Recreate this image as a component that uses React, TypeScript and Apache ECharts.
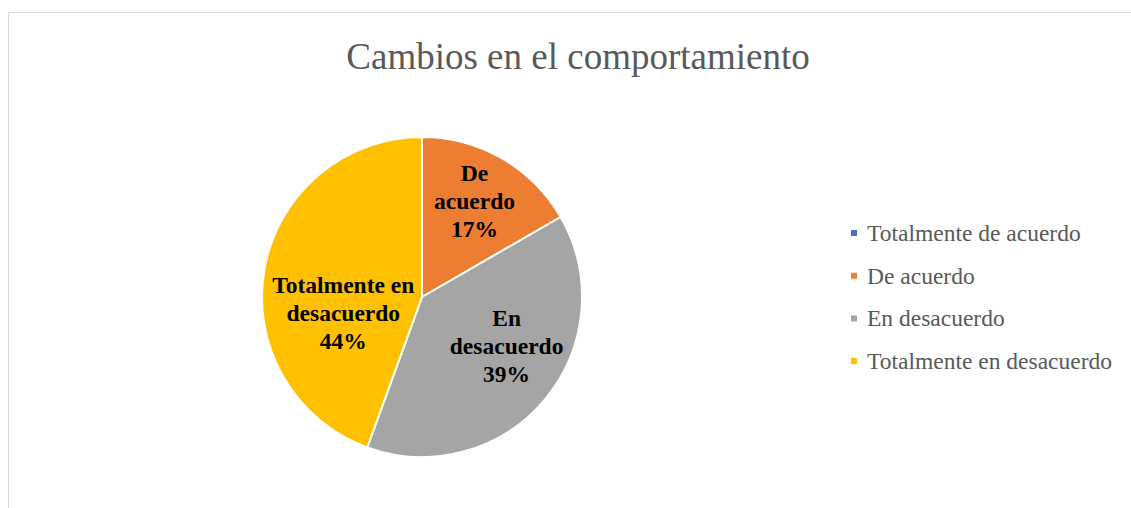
import React, { useEffect, useRef } from "react";
import * as echarts from "echarts";

const categories = [
  "Totalmente de acuerdo",
  "De acuerdo",
  "En desacuerdo",
  "Totalmente en desacuerdo",
];
const labelNames = ["Totalmente de\nacuerdo", "De\nacuerdo", "En\ndesacuerdo", "Totalmente en\ndesacuerdo"];
const values = [0, 3, 7, 8];
const colors = ["#4472C4", "#ED7D31", "#A5A5A5", "#FFC000"];
const labelOffsets = [
  [0, 0],
  [11, -24],
  [21, -4],
  [3, 30],
];

const FONT = "Liberation Serif";

export default function App() {
  const ref = useRef<HTMLDivElement>(null);
  useEffect(() => {
    if (!ref.current) return;
    const chart = echarts.init(ref.current, undefined, { renderer: "svg" });
    chart.setOption({
      animation: false,
      backgroundColor: "#ffffff",
      title: {
        text: "Cambios en el comportamiento",
        left: 573,
        textAlign: "center",
        top: 33,
        textStyle: {
          fontFamily: FONT,
          fontWeight: "normal",
          fontSize: 37,
          color: "#595959",
        },
      },
      graphic: [
        {
          type: "rect",
          shape: { x: 8.5, y: 12.5, width: 1130, height: 520 },
          style: { fill: "none", stroke: "#d9d9d9", lineWidth: 1 },
          silent: true,
        },
      ],
      legend: {
        orient: "vertical",
        left: 849,
        top: 221,
        icon: "rect",
        itemWidth: 8,
        itemHeight: 8,
        itemGap: 18.7,
        padding: 0,
        selectedMode: false,
        data: categories,
        textStyle: {
          fontFamily: FONT,
          fontSize: 23.5,
          lineHeight: 20,
          color: "#595959",
          padding: [0, 0, 0, 4],
        },
      },
      series: [
        {
          type: "pie",
          center: [422, 297],
          radius: 160,
          startAngle: 90,
          clockwise: true,
          avoidLabelOverlap: false,
          itemStyle: { borderColor: "#ffffff", borderWidth: 2 },
          emphasis: { disabled: true },
          label: {
            show: true,
            position: "inside",
            fontFamily: FONT,
            fontWeight: "bold",
            fontSize: 23.5,
            lineHeight: 28,
            color: "#000000",
            align: "center",
            formatter: (p: any) =>
              p.value === 0 ? "" : `${labelNames[p.dataIndex]}\n${Math.round(p.percent)}%`,
          },
          labelLine: { show: false },
          labelLayout: (p: any) => ({
            dx: labelOffsets[p.dataIndex][0],
            dy: labelOffsets[p.dataIndex][1],
          }),
          data: categories.map((name, i) => ({
            name,
            value: values[i],
            itemStyle: { color: colors[i] },
          })),
        },
      ],
    });
    return () => chart.dispose();
  }, []);
  return (
    <div
      ref={ref}
      style={{ position: "absolute", left: 0, top: 0, width: 1131, height: 508 }}
    />
  );
}
